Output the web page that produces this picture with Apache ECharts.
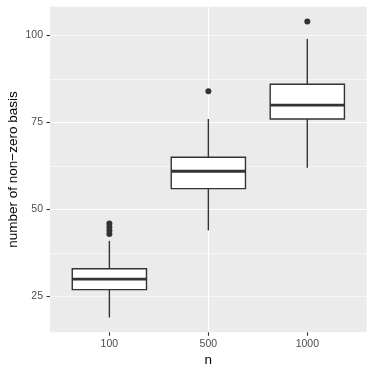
<!DOCTYPE html>
<html>
<head>
<meta charset="utf-8">
<script src="https://cdn.jsdelivr.net/npm/echarts@6/dist/echarts.min.js"></script>
<style>
  html, body { margin: 0; padding: 0; background: #fff; }
  #chart { width: 374px; height: 374px; }
</style>
</head>
<body>
<div id="chart"></div>
<script>
// 数据
var categories = ['100', '500', '1000'];
var whiskerLow = [19, 44, 62];
var q1 = [27, 56, 76];
var median = [30, 61, 80];
var q3 = [33, 65, 86];
var whiskerHigh = [41, 76, 99];
var outliers = [[43, 44, 45, 46], [84], [104]];
var yTicks = [25, 50, 75, 100];

var boxData = [];
var outlierData = [];
for (var i = 0; i < categories.length; i++) {
    boxData.push([i + 1, whiskerLow[i], q1[i], median[i], q3[i], whiskerHigh[i]]);
    for (var j = 0; j < outliers[i].length; j++) {
        outlierData.push([i + 1, outliers[i][j]]);
    }
}

var ink = '#333333';

function renderBox(params, api) {
    var x = api.value(0);
    var lo = api.coord([x, api.value(1)]);
    var b = api.coord([x, api.value(2)]);
    var m = api.coord([x, api.value(3)]);
    var t = api.coord([x, api.value(4)]);
    var hi = api.coord([x, api.value(5)]);
    var w = api.size([0.75, 0])[0];
    var cx = b[0];
    return {
        type: 'group',
        children: [
            {type: 'line', shape: {x1: cx, y1: lo[1], x2: cx, y2: b[1]}, style: {stroke: ink, lineWidth: 1.4}},
            {type: 'line', shape: {x1: cx, y1: t[1], x2: cx, y2: hi[1]}, style: {stroke: ink, lineWidth: 1.4}},
            {type: 'rect', shape: {x: cx - w / 2, y: t[1], width: w, height: b[1] - t[1]},
                style: {fill: '#ffffff', stroke: ink, lineWidth: 1.4}},
            {type: 'line', shape: {x1: cx - w / 2, y1: m[1], x2: cx + w / 2, y2: m[1]}, style: {stroke: ink, lineWidth: 2.8}}
        ]
    };
}

var myChart = echarts.init(document.getElementById('chart'));
var font = '"Liberation Sans", Arial, sans-serif';

var option = {
    animation: false,
    grid: {
        left: 50, right: 7.3, top: 6.7, bottom: 41.7,
        outerBoundsMode: 'none',
        containLabel: false,
        show: true, backgroundColor: '#EBEBEB', borderWidth: 0
    },
    xAxis: {
        type: 'value',
        min: 0.4, max: 3.6,
        minInterval: 1, maxInterval: 1,
        name: 'n',
        nameLocation: 'middle',
        nameGap: 21,
        nameMoveOverlap: false,
        nameTextStyle: {color: '#000', fontSize: 13.5, fontFamily: font},
        axisLine: {show: false},
        axisTick: {show: true, length: 3.5, customValues: [1, 2, 3], lineStyle: {color: ink, width: 1.1}},
        axisLabel: {
            customValues: [1, 2, 3],
            color: '#4D4D4D', fontSize: 10.5, fontFamily: font, margin: 6,
            formatter: function (v) { return categories[Math.round(v) - 1]; }
        },
        splitLine: {show: true, showMinLine: false, showMaxLine: false, lineStyle: {color: '#ffffff', width: 1.2}}
    },
    yAxis: [{
        type: 'value',
        min: 14.75, max: 108.25,
        minInterval: 25, maxInterval: 25,
        name: 'number of non\u2212zero basis',
        nameLocation: 'middle',
        nameGap: 30,
        nameMoveOverlap: false,
        nameTextStyle: {color: '#000', fontSize: 13.5, fontFamily: font},
        axisLine: {show: false},
        axisTick: {show: true, length: 3.5, customValues: yTicks, lineStyle: {color: ink, width: 1.1}},
        axisLabel: {customValues: yTicks, color: '#4D4D4D', fontSize: 10.5, fontFamily: font, margin: 7},
        splitLine: {show: true, showMinLine: false, showMaxLine: false, lineStyle: {color: '#ffffff', width: 1.2}},
        z: 3
    }, {
        type: 'value',
        min: 14.75, max: 108.25,
        minInterval: 12.5, maxInterval: 12.5,
        axisLine: {show: false},
        axisTick: {show: false},
        axisLabel: {show: false},
        splitLine: {show: true, showMinLine: false, showMaxLine: false, lineStyle: {color: '#ffffff', width: 0.6}},
        z: 2
    }],
    series: [{
        type: 'custom',
        renderItem: renderBox,
        data: boxData,
        encode: {x: 0, y: [1, 2, 3, 4, 5]},
        z: 5
    }, {
        type: 'scatter',
        data: outlierData,
        symbolSize: 6,
        itemStyle: {color: ink, opacity: 1},
        z: 6
    }]
};
myChart.setOption(option);
</script>
</body>
</html>
